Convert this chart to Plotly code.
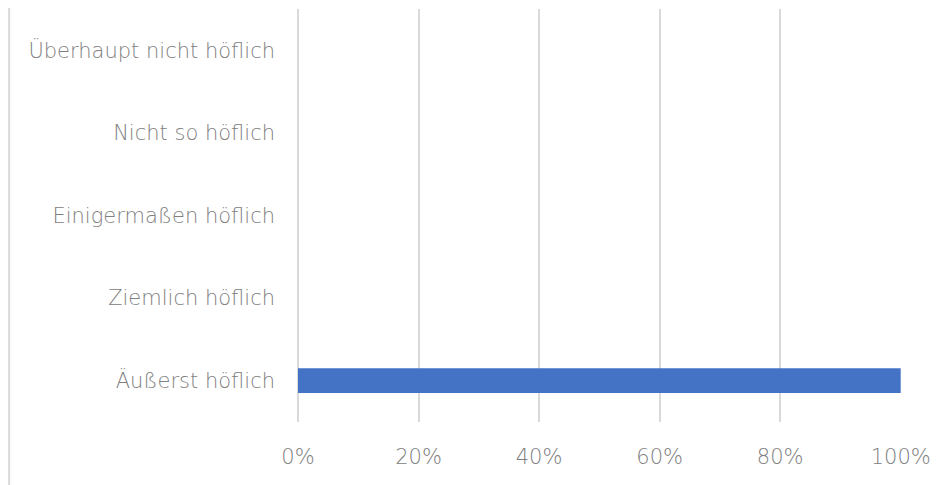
import plotly.graph_objects as go

categories = ["Äußerst höflich", "Ziemlich höflich", "Einigermaßen höflich", "Nicht so höflich", "Überhaupt nicht höflich"]
values = [1.0, 0, 0, 0, 0]
tick_vals = [0, 0.2, 0.4, 0.6, 0.8, 1.0]
tick_text = ["0%", "20%", "40%", "60%", "80%", "100%"]

font = dict(family="DejaVu Sans", size=21, color="#808080", weight=200)

fig = go.Figure(go.Bar(
    y=categories, x=values, orientation="h",
    marker=dict(color="#4472c4", line=dict(width=0)),
    width=0.3,
))

fig.update_layout(
    width=946, height=485,
    margin=dict(l=290, r=53, t=1, b=71),
    paper_bgcolor="white", plot_bgcolor="white",
    showlegend=False,
    font=font,
    xaxis=dict(range=[0, 1.0005], tickvals=tick_vals, ticktext=tick_text,
               showgrid=True, gridcolor="#d9d9d9", gridwidth=1.5,
               zeroline=True, zerolinecolor="#d9d9d9", zerolinewidth=1.5,
               showline=False, ticks="",
               ticklabelstandoff=20, tickfont=font),
    yaxis=dict(categoryorder="array", categoryarray=categories,
               showgrid=False, zeroline=False, showline=False, ticks="",
               ticklabelstandoff=22, tickfont=font),
    shapes=[dict(type="line", xref="paper", yref="paper",
                 x0=-0.479, x1=-0.479, y0=-0.2, y1=1.03,
                 line=dict(color="#d9d9d9", width=2))],
)

fig.write_html("out.html")
